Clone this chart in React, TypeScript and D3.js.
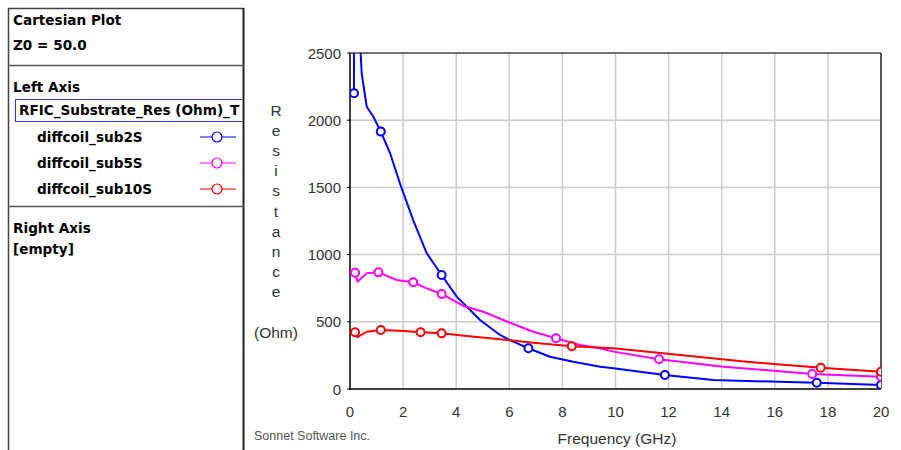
import React from "react";
import * as d3 from "d3";

const xTicks = [0, 2, 4, 6, 8, 10, 12, 14, 16, 18, 20];
const yTicks = [0, 500, 1000, 1500, 2000, 2500];

const sub2SFreq = [0.15, 0.15, 0.3, 0.4, 0.44, 0.63, 0.88, 1.16, 1.51, 1.88, 2.38, 2.89, 3.45, 4.02, 4.9, 5.65, 6.15, 6.72, 7.53, 8.41, 9.42, 9.92, 11.86, 13.68, 14.94, 16.5, 17.58, 20];
const sub2SRes = [2200, 3000, 3300, 2500, 2349, 2100, 2026, 1915, 1754, 1530, 1257, 1010, 848, 687, 513, 402, 352, 303, 240, 203, 166, 154, 104, 67, 60, 52, 47, 30];
const sub2SMarks = [0.15, 1.16, 3.45, 6.72, 11.86, 17.58, 20];

const sub5SFreq = [0.19, 0.28, 0.63, 1.07, 1.76, 2.38, 2.89, 3.45, 4.27, 5.02, 6.03, 6.9, 7.76, 8.66, 9.42, 9.92, 11.64, 14.06, 17.41, 20];
const sub5SRes = [865, 798, 861, 868, 811, 794, 749, 707, 618, 575, 493, 426, 377, 327, 303, 278, 221, 166, 112, 92];
const sub5SMarks = [0.19, 1.07, 2.38, 3.45, 7.76, 11.64, 17.41, 20];

const sub10SFreq = [0.19, 0.28, 0.63, 1.16, 1.88, 2.66, 3.45, 4.4, 5.65, 6.9, 8.35, 9.92, 12.43, 14.94, 17.73, 20];
const sub10SRes = [422, 385, 426, 439, 434, 422, 414, 394, 370, 345, 318, 303, 253, 203, 158, 129];
const sub10SMarks = [0.19, 1.16, 2.66, 3.45, 8.35, 17.73, 20];

const seriesNames = ["diffcoil_sub2S", "diffcoil_sub5S", "diffcoil_sub10S"];
const seriesColors = ["#0000ff", "#ff00ff", "#ff0000"];

const series = [
  { name: seriesNames[0], color: seriesColors[0], f: sub2SFreq, v: sub2SRes, m: sub2SMarks },
  { name: seriesNames[1], color: seriesColors[1], f: sub5SFreq, v: sub5SRes, m: sub5SMarks },
  { name: seriesNames[2], color: seriesColors[2], f: sub10SFreq, v: sub10SRes, m: sub10SMarks },
];

const yLabelLetters = "Resistance".split("");

export default function App() {
  const W = 901, H = 450;
  const left = 350, right = 881, top = 53, bottom = 389;
  const x = d3.scaleLinear().domain([0, 20]).range([left, right]);
  const y = d3.scaleLinear().domain([0, 2500]).range([bottom, top]);
  const line = d3.line<[number, number]>().x(d => x(d[0])).y(d => y(d[1]));
  const tickFont = "Arial, 'Liberation Sans', sans-serif";
  const panelFont = "'DejaVu Sans', Verdana, sans-serif";

  return (
    <svg width={W} height={H} style={{ position: "absolute", left: 0, top: 0, background: "#fff" }}>
      <defs>
        <clipPath id="plotClip">
          <rect x={left} y={top} width={right - left} height={bottom - top} />
        </clipPath>
        <clipPath id="panelClip">
          <rect x={8} y={8} width={234} height={H} />
        </clipPath>
      </defs>
      <rect x={0} y={0} width={W} height={H} fill="#fff" />

      {/* Left panel */}
      <g fontFamily={panelFont} fontWeight="bold" fontSize={13.6} fill="#000">
        <line x1={8} y1={8.5} x2={244} y2={8.5} stroke="#444" strokeWidth={1.5} />
        <line x1={8.5} y1={8} x2={8.5} y2={H} stroke="#444" strokeWidth={1.5} />
        <line x1={243.5} y1={8} x2={243.5} y2={H} stroke="#222" strokeWidth={2} />
        <line x1={8} y1={65.5} x2={244} y2={65.5} stroke="#555" strokeWidth={1.5} />
        <line x1={8} y1={206.5} x2={244} y2={206.5} stroke="#555" strokeWidth={1.5} />
        <text x={13} y={25}>Cartesian Plot</text>
        <text x={13} y={50}>Z0 = 50.0</text>
        <text x={13} y={92}>Left Axis</text>
        <g clipPath="url(#panelClip)">
          <rect x={15.5} y={99.5} width={240} height={22} fill="none" stroke="#3333ff" strokeWidth={1} />
          <text x={19} y={115}>RFIC_Substrate_Res (Ohm)_T</text>
        </g>
        {series.map((s, i) => {
          const cy = 137 + i * 26;
          return (
            <g key={s.name}>
              <text x={37} y={cy + 5}>{s.name}</text>
              <line x1={200} x2={236} y1={cy} y2={cy} stroke={s.color} strokeWidth={1.2} />
              <circle cx={217} cy={cy} r={5} fill="#fff" stroke={s.color} strokeWidth={1.2} />
            </g>
          );
        })}
        <text x={13} y={233}>Right Axis</text>
        <text x={13} y={254}>[empty]</text>
      </g>

      {/* Grid */}
      <g stroke="#cccccc" strokeWidth={1.5}>
        {xTicks.slice(1, -1).map(t => (
          <line key={"gx" + t} x1={x(t)} x2={x(t)} y1={top} y2={bottom} />
        ))}
        {yTicks.slice(1, -1).map(t => (
          <line key={"gy" + t} x1={left} x2={right} y1={y(t)} y2={y(t)} />
        ))}
      </g>

      {/* Frame */}
      <line x1={left} x2={right} y1={top} y2={top} stroke="#444" strokeWidth={1.5} />
      <line x1={right} x2={right} y1={top} y2={bottom} stroke="#222" strokeWidth={1.5} />
      <line x1={left} x2={left} y1={top} y2={bottom + 1} stroke="#000" strokeWidth={1.5} />
      <line x1={left - 1} x2={right} y1={bottom} y2={bottom} stroke="#000" strokeWidth={1.5} />
      {yTicks.map(t => (
        <line key={"ty" + t} x1={left - 3} x2={left} y1={y(t)} y2={y(t)} stroke="#000" />
      ))}

      {/* Tick labels */}
      <g fontFamily={tickFont} fontSize={15} fill="#333">
        {yTicks.map(t => (
          <text key={"ly" + t} x={341} y={y(t)} textAnchor="end" dominantBaseline="central">{t}</text>
        ))}
        {xTicks.map(t => (
          <text key={"lx" + t} x={x(t)} y={411} textAnchor="middle" dominantBaseline="central">{t}</text>
        ))}
      </g>

      {/* Axis titles */}
      <g fontFamily={tickFont} fontSize={15.5} fill="#333">
        {yLabelLetters.map((c, i) => (
          <text key={"yl" + i} x={276} y={110 + i * 20.2} textAnchor="middle" dominantBaseline="central">{c}</text>
        ))}
        <text x={276} y={332} textAnchor="middle" dominantBaseline="central">(Ohm)</text>
        <text x={617} y={438} textAnchor="middle" dominantBaseline="central">Frequency (GHz)</text>
      </g>
      <text x={254} y={436} fontFamily={tickFont} fontSize={12.5} fill="#555" dominantBaseline="central">Sonnet Software Inc.</text>

      {/* Series */}
      <g clipPath="url(#plotClip)">
        {series.map(s => {
          const pts: [number, number][] = s.f.map((f, i) => [f, s.v[i]]);
          return (
            <g key={"s" + s.name}>
              <path d={line(pts) || ""} fill="none" stroke={s.color} strokeWidth={2} strokeLinejoin="round" />
              {s.m.map(mf => {
                const idx = s.f.indexOf(mf);
                return (
                  <circle key={mf} cx={x(mf)} cy={y(s.v[idx])} r={4} fill="#fff" stroke={s.color} strokeWidth={2} />
                );
              })}
            </g>
          );
        })}
      </g>
    </svg>
  );
}
